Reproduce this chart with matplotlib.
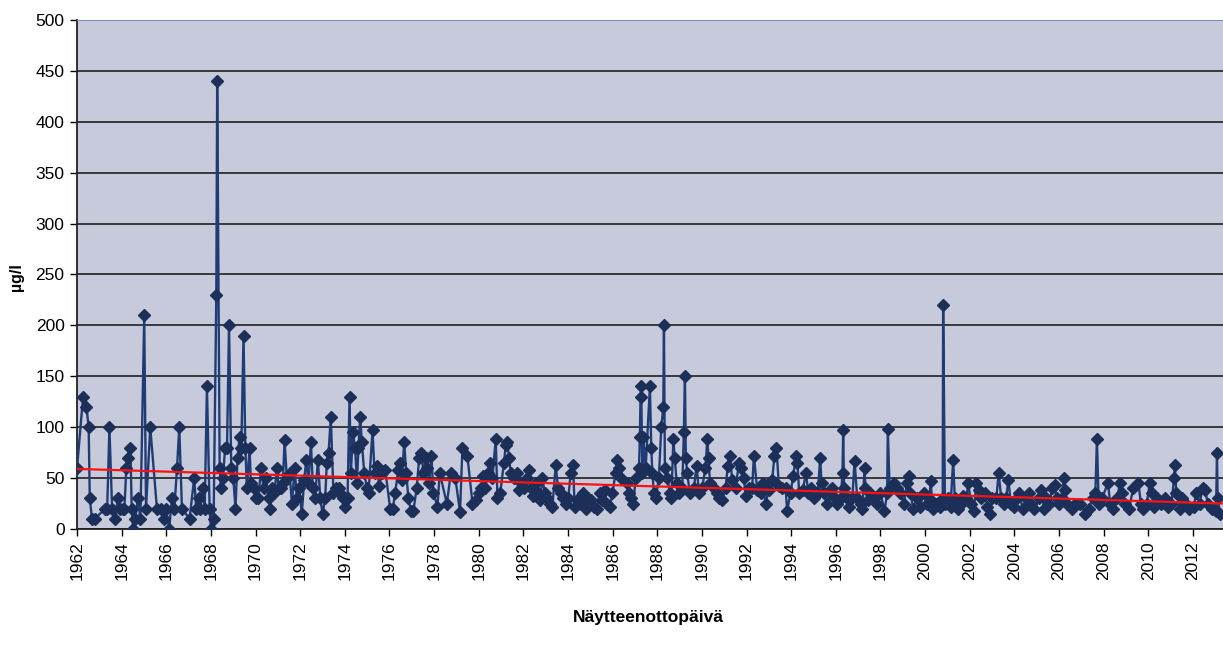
import matplotlib
matplotlib.use("Agg")
from matplotlib import pyplot as plt
import numpy as np

plt.rcParams['font.family'] = ['Liberation Sans', 'DejaVu Sans']

# sample dates as decimal years (µg/l)
sample_years = [
    1962.00, 1962.27, 1962.42, 1962.52, 1962.57, 1962.67, 1962.79, 1963.27, 1963.35, 1963.45,
    1963.57, 1963.72, 1963.82, 1963.94, 1964.05, 1964.12, 1964.21, 1964.27, 1964.39, 1964.45,
    1964.51, 1964.61, 1964.72, 1964.84, 1965.01, 1965.09, 1965.28, 1965.58, 1965.76, 1965.88,
    1965.99, 1966.13, 1966.25, 1966.36, 1966.48, 1966.58, 1966.70, 1967.04, 1967.25, 1967.34,
    1967.45, 1967.52, 1967.64, 1967.72, 1967.82, 1967.94, 1968.00, 1968.12, 1968.24, 1968.28,
    1968.39, 1968.45, 1968.53, 1968.64, 1968.72, 1968.81, 1968.91, 1969.00, 1969.10, 1969.19,
    1969.28, 1969.36, 1969.46, 1969.54, 1969.61, 1969.73, 1969.79, 1969.91, 1970.01, 1970.13,
    1970.24, 1970.36, 1970.46, 1970.58, 1970.66, 1970.73, 1970.84, 1970.96, 1971.03, 1971.12,
    1971.22, 1971.30, 1971.40, 1971.52, 1971.63, 1971.75, 1971.85, 1971.96, 1972.07, 1972.18,
    1972.27, 1972.37, 1972.48, 1972.57, 1972.67, 1972.79, 1972.90, 1973.00, 1973.12, 1973.19,
    1973.27, 1973.37, 1973.49, 1973.61, 1973.72, 1973.79, 1973.91, 1974.01, 1974.12, 1974.21,
    1974.27, 1974.36, 1974.46, 1974.54, 1974.61, 1974.69, 1974.76, 1974.87, 1974.99, 1975.06,
    1975.24, 1975.33, 1975.43, 1975.54, 1975.66, 1975.81, 1976.03, 1976.15, 1976.25, 1976.40,
    1976.48, 1976.55, 1976.66, 1976.75, 1976.85, 1976.96, 1977.07, 1977.22, 1977.33, 1977.43,
    1977.52, 1977.63, 1977.70, 1977.78, 1977.88, 1977.97, 1978.15, 1978.25, 1978.57, 1978.75,
    1978.95, 1979.16, 1979.27, 1979.49, 1979.72, 1979.87, 1980.01, 1980.10, 1980.21, 1980.30,
    1980.40, 1980.51, 1980.61, 1980.76, 1980.84, 1980.96, 1981.13, 1981.21, 1981.28, 1981.36,
    1981.43, 1981.58, 1981.73, 1981.81, 1981.91, 1982.03, 1982.15, 1982.25, 1982.36, 1982.45,
    1982.55, 1982.66, 1982.75, 1982.85, 1982.96, 1983.07, 1983.19, 1983.30, 1983.45, 1983.55,
    1983.67, 1983.78, 1983.90, 1984.01, 1984.12, 1984.22, 1984.30, 1984.42, 1984.57, 1984.69,
    1984.79, 1984.91, 1985.04, 1985.16, 1985.31, 1985.42, 1985.54, 1985.64, 1985.76, 1985.88,
    1985.99, 1986.13, 1986.21, 1986.28, 1986.36, 1986.63, 1986.73, 1986.81, 1986.93, 1987.03,
    1987.18, 1987.22, 1987.25, 1987.28, 1987.33, 1987.37, 1987.48, 1987.67, 1987.73, 1987.78,
    1987.85, 1987.93, 1988.07, 1988.18, 1988.27, 1988.30, 1988.34, 1988.45, 1988.57, 1988.63,
    1988.72, 1988.78, 1988.87, 1988.97, 1989.12, 1989.19, 1989.24, 1989.28, 1989.34, 1989.46,
    1989.64, 1989.76, 1989.87, 1990.01, 1990.16, 1990.24, 1990.30, 1990.36, 1990.54, 1990.66,
    1990.76, 1990.91, 1991.06, 1991.16, 1991.25, 1991.36, 1991.51, 1991.66, 1991.76, 1991.88,
    1991.96, 1992.10, 1992.25, 1992.33, 1992.48, 1992.63, 1992.73, 1992.85, 1993.00, 1993.15,
    1993.25, 1993.34, 1993.45, 1993.60, 1993.75, 1993.82, 1993.97, 1994.09, 1994.22, 1994.28,
    1994.36, 1994.51, 1994.67, 1994.76, 1994.89, 1995.04, 1995.19, 1995.30, 1995.36, 1995.45,
    1995.60, 1995.75, 1995.85, 1995.96, 1996.07, 1996.22, 1996.30, 1996.33, 1996.37, 1996.49,
    1996.59, 1996.74, 1996.84, 1996.96, 1997.11, 1997.19, 1997.29, 1997.33, 1997.44, 1997.55,
    1997.70, 1997.85, 1998.00, 1998.18, 1998.30, 1998.33, 1998.41, 1998.59, 1998.74, 1998.89,
    1999.04, 1999.19, 1999.26, 1999.33, 1999.48, 1999.63, 1999.78, 1999.93, 2000.07, 2000.19,
    2000.25, 2000.34, 2000.49, 2000.67, 2000.79, 2000.81, 2000.89, 2001.04, 2001.14, 2001.26,
    2001.33, 2001.48, 2001.59, 2001.70, 2001.85, 2001.93, 2002.07, 2002.18, 2002.30, 2002.41,
    2002.52, 2002.67, 2002.79, 2002.89, 2003.01, 2003.19, 2003.30, 2003.41, 2003.53, 2003.63,
    2003.73, 2003.85, 2004.00, 2004.10, 2004.22, 2004.37, 2004.52, 2004.64, 2004.74, 2004.89,
    2005.11, 2005.21, 2005.33, 2005.44, 2005.56, 2005.70, 2005.81, 2005.89, 2006.00, 2006.12,
    2006.22, 2006.27, 2006.37, 2006.59, 2006.74, 2006.96, 2007.18, 2007.33, 2007.51, 2007.63,
    2007.70, 2007.78, 2007.93, 2008.19, 2008.30, 2008.44, 2008.59, 2008.74, 2008.81, 2008.96,
    2009.14, 2009.33, 2009.56, 2009.67, 2009.78, 2009.93, 2010.07, 2010.15, 2010.27, 2010.41,
    2010.59, 2010.74, 2010.89, 2011.04, 2011.16, 2011.19, 2011.26, 2011.41, 2011.52, 2011.67,
    2011.81, 2012.04, 2012.15, 2012.30, 2012.44, 2012.55, 2012.67, 2012.85, 2013.04, 2013.08,
    2013.11, 2013.23,
]

values = [
    60, 130, 120, 100, 30, 10, 10, 20, 20, 100,
    20, 10, 30, 20, 20, 20, 60, 70, 80, 20,
    0, 10, 30, 10, 210, 20, 100, 20, 20, 10,
    20, 0, 30, 20, 60, 100, 20, 10, 50, 20,
    30, 20, 40, 20, 140, 20, 0, 10, 230, 440,
    60, 40, 50, 80, 80, 200, 60, 50, 20, 70,
    90, 80, 190, 80, 40, 80, 45, 40, 30, 30,
    60, 40, 50, 30, 20, 40, 35, 60, 40, 40,
    45, 87, 50, 55, 25, 60, 30, 40, 15, 48,
    68, 45, 85, 40, 30, 68, 30, 15, 30, 65,
    75, 110, 35, 40, 40, 35, 30, 22, 30, 130,
    55, 95, 80, 45, 80, 110, 85, 55, 40, 35,
    97, 55, 62, 42, 55, 58, 20, 20, 35, 58,
    65, 48, 85, 55, 30, 18, 18, 40, 70, 75,
    55, 70, 60, 45, 72, 35, 22, 55, 25, 55,
    50, 17, 80, 72, 25, 28, 35, 40, 52, 40,
    55, 65, 50, 88, 30, 35, 65, 82, 85, 70,
    55, 50, 55, 38, 45, 40, 50, 58, 40, 32,
    45, 35, 28, 50, 35, 30, 25, 22, 63, 40,
    35, 30, 25, 30, 55, 63, 22, 28, 25, 35,
    20, 30, 28, 22, 20, 35, 28, 38, 25, 22,
    35, 55, 68, 60, 50, 45, 35, 30, 25, 50,
    60, 90, 130, 140, 55, 90, 60, 140, 80, 55,
    35, 30, 50, 100, 120, 200, 60, 50, 35, 30,
    88, 70, 45, 35, 40, 95, 150, 70, 55, 35,
    40, 62, 35, 40, 60, 88, 70, 45, 40, 35,
    30, 28, 40, 62, 72, 48, 40, 65, 60, 50,
    32, 40, 40, 72, 38, 35, 45, 25, 38, 48,
    72, 80, 42, 40, 40, 18, 35, 52, 72, 65,
    35, 38, 55, 35, 40, 30, 35, 70, 45, 35,
    25, 35, 40, 30, 25, 30, 55, 97, 40, 30,
    22, 30, 67, 30, 25, 20, 60, 40, 28, 35,
    30, 25, 35, 18, 35, 98, 40, 45, 40, 35,
    25, 45, 52, 35, 20, 30, 22, 35, 25, 30,
    47, 20, 25, 22, 30, 220, 25, 30, 22, 68,
    30, 20, 25, 32, 30, 45, 25, 18, 45, 38,
    30, 35, 22, 15, 30, 30, 55, 30, 25, 30,
    48, 25, 22, 30, 35, 20, 30, 35, 25, 20,
    30, 38, 20, 30, 25, 40, 43, 30, 25, 30,
    50, 38, 25, 20, 25, 25, 15, 20, 30, 35,
    88, 25, 30, 45, 25, 20, 30, 45, 35, 25,
    20, 40, 45, 25, 20, 25, 45, 35, 22, 30,
    25, 30, 22, 25, 50, 63, 35, 20, 30, 25,
    20, 22, 35, 25, 40, 38, 25, 20, 18, 75,
    30, 15,
]

# linear trend line (red), end points
trend_years = [1962.0, 2013.35]
trend_values = [59, 25]

year_ticks = list(range(1962, 2014, 2))

fig = plt.figure(figsize=(12.23, 6.52), dpi=100)
ax = fig.add_axes([0.063, 0.1887, 0.937, 0.7806])
ax.set_facecolor('#c7cadb')

ax.plot(sample_years, values, color='#203c74', linewidth=1.7, marker='D',
        markersize=6, markerfacecolor='#1c2f58', markeredgecolor='#1c2f58', zorder=3)
ax.plot(trend_years, trend_values, color='#ff1010', linewidth=1.6, zorder=4)

ax.set_xlim(1962, 2013.35)
ax.set_ylim(0, 500)
ax.set_yticks(range(0, 501, 50))
ax.set_xticks(year_ticks)
ax.set_xticklabels([str(y) for y in year_ticks], rotation=90, fontsize=12.5)
ax.tick_params(axis='y', labelsize=12.5, direction='out', length=5, width=1, pad=4)
ax.tick_params(axis='x', direction='out', length=5, width=1, pad=4)

ax.yaxis.grid(True, color='#111111', linewidth=1.1)
ax.set_axisbelow(True)

ax.spines['left'].set_color('#222222')
ax.spines['bottom'].set_color('#222222')
ax.spines['left'].set_linewidth(1.3)
ax.spines['bottom'].set_linewidth(1.3)
ax.spines['top'].set_color('#7f8fb5')
ax.spines['top'].set_linewidth(0.8)
ax.spines['right'].set_visible(False)

fig.text(0.0135, 0.575, 'µg/l', rotation=90, fontsize=11.5, fontweight='bold',
         ha='center', va='center')
fig.text(0.53, 0.053, 'Näytteenottopäivä', fontsize=12.5, fontweight='bold',
         ha='center', va='center')

plt.savefig('out.png', dpi=100)
